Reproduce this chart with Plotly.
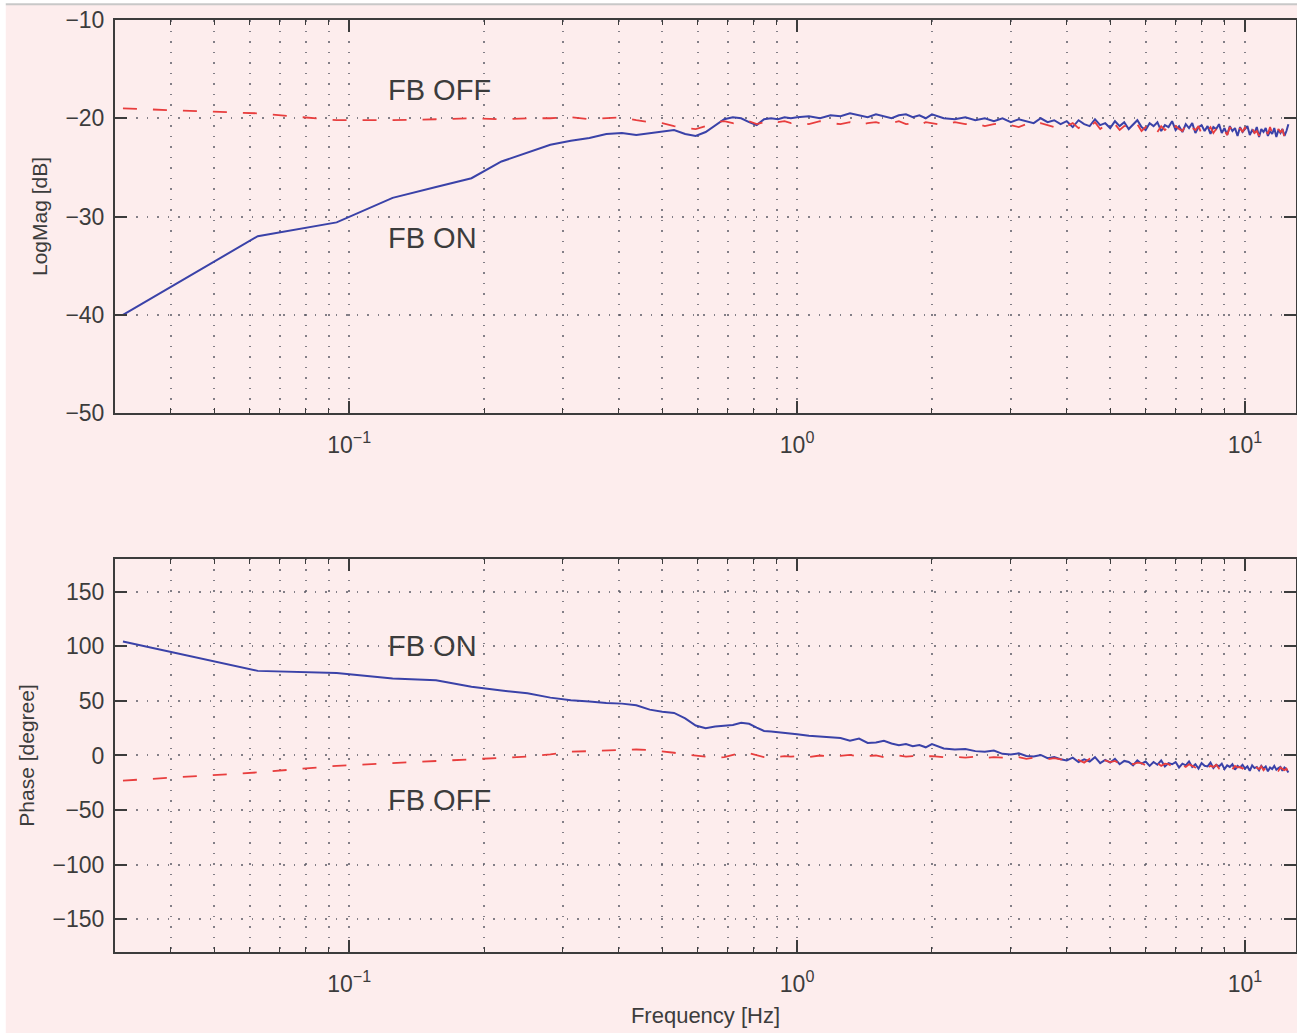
import plotly.graph_objects as go
from plotly.subplots import make_subplots

# Frequency grid [Hz]
freq_low = [0.03125, 0.0625, 0.09375, 0.125, 0.15625, 0.1875, 0.21875, 0.25,
            0.28125, 0.3125, 0.34375, 0.375, 0.40625, 0.4375, 0.46875, 0.5,
            0.53125, 0.5625, 0.59375, 0.625, 0.65625, 0.6875, 0.71875, 0.75,
            0.78125, 0.8125, 0.84375, 0.875, 0.90625, 0.9375, 0.96875]
freq_mid = [1.0, 1.0625, 1.125, 1.1875, 1.25, 1.3125, 1.375, 1.4375,
            1.5, 1.5625, 1.625, 1.6875, 1.75, 1.8125, 1.875, 1.9375,
            2.0, 2.125, 2.25, 2.375, 2.5, 2.625, 2.75, 2.875,
            3.0, 3.125, 3.25, 3.375, 3.5, 3.625, 3.75, 3.875]
freq_high = [4.0, 4.125, 4.25, 4.375, 4.5, 4.625, 4.75, 4.875, 5.0, 5.125,
             5.25, 5.375, 5.5, 5.625, 5.75, 5.875, 6.0, 6.125, 6.25, 6.375,
             6.5, 6.625, 6.75, 6.875, 7.0, 7.125, 7.25, 7.375, 7.5, 7.625,
             7.75, 7.875, 8.0, 8.125, 8.25, 8.375, 8.5, 8.625, 8.75, 8.875,
             9.0, 9.125, 9.25, 9.375, 9.5, 9.625, 9.75, 9.875, 10.0, 10.125,
             10.25, 10.375, 10.5, 10.625, 10.75, 10.875, 11.0, 11.125, 11.25, 11.375,
             11.5, 11.625, 11.75, 11.875, 12.0, 12.125, 12.25, 12.375, 12.5]
freq = freq_low + freq_mid + freq_high

# Magnitude [dB], feedback on
mag_on = [-40.0, -32.0, -30.6, -28.1, -27.0, -26.1, -24.4, -23.5,
          -22.7, -22.3, -22.0, -21.6, -21.5, -21.7, -21.5, -21.3,
          -21.2, -21.6, -21.8, -21.4, -20.7, -20.1, -19.9, -20.0,
          -20.4, -20.7, -20.1, -20.0, -20.1, -19.9, -20.0,
          -19.9, -19.8, -20.0, -19.7, -19.8, -19.5, -19.7, -19.9,
          -19.6, -19.8, -20.0, -19.7, -19.6, -19.9, -19.7, -20.0,
          -19.6, -20.0, -20.1, -19.9, -20.2, -20.0, -20.3, -20.0,
          -20.4, -20.1, -20.3, -20.5, -20.0, -20.4, -20.2, -20.6,
          -20.3, -20.9, -20.2, -20.6, -20.8, -20.1, -20.7, -20.5, -21.0, -20.3,
          -20.8, -20.4, -21.1, -20.6, -20.2, -20.9, -21.2, -20.5, -20.8, -20.4,
          -21.3, -20.7, -20.9, -20.3, -21.2, -20.8, -21.4, -20.6, -21.0, -20.5,
          -21.5, -20.9, -20.7, -21.3, -20.8, -21.6, -20.9, -21.1, -20.6, -21.5,
          -21.0, -21.7, -20.8, -21.3, -21.0, -21.8, -20.9, -21.4, -21.1, -20.8,
          -21.7, -21.2, -21.5, -20.9, -21.9, -21.1, -21.4, -21.0, -21.8, -21.3,
          -21.6, -21.0, -21.9, -21.2, -21.5, -21.1, -21.8, -21.3, -20.6]

# Magnitude [dB], feedback off
mag_off = [-19.0, -19.5, -20.2, -20.2, -20.1, -20.0, -20.1, -20.0,
           -20.0, -19.9, -20.1, -20.0, -19.9, -20.2, -20.4, -20.5,
           -20.8, -21.0, -21.1, -20.8, -20.4, -20.3, -20.5, -20.6,
           -20.3, -20.6, -20.4, -20.2, -20.4, -20.3, -20.5,
           -20.4, -20.6, -20.3, -20.5, -20.6, -20.4, -20.7, -20.5,
           -20.4, -20.6, -20.5, -20.3, -20.6, -20.5, -20.7, -20.4,
           -20.5, -20.7, -20.4, -20.6, -20.5, -20.8, -20.6, -20.5,
           -20.7, -20.9, -20.6, -20.8, -20.5, -20.7, -20.9, -20.6,
           -20.8, -20.5, -21.0, -20.6, -20.9, -20.4, -21.1, -20.7, -20.9, -20.6,
           -21.2, -20.8, -20.7, -21.1, -20.6, -21.3, -20.9, -21.0, -20.7, -21.4,
           -20.8, -21.2, -20.9, -21.5, -20.8, -21.1, -21.3, -20.7, -21.4, -21.0,
           -21.2, -20.8, -21.6, -21.0, -21.3, -20.9, -21.5, -21.1, -20.8, -21.4,
           -21.2, -21.7, -20.9, -21.3, -21.1, -21.6, -21.0, -21.4, -20.9, -21.7,
           -21.2, -21.0, -21.5, -21.3, -21.8, -21.0, -21.4, -21.2, -21.6, -20.9,
           -21.5, -21.3, -21.8, -21.1, -21.4, -21.2, -21.9, -21.3, -21.6]

# Phase [degree], feedback on
phase_on = [104.5, 77.5, 75.5, 70.5, 69.0, 63.0, 59.5, 57.0,
            53.0, 50.5, 49.5, 48.0, 47.5, 46.0, 42.0, 40.0,
            39.0, 34.0, 27.5, 25.0, 26.5, 27.0, 28.0, 30.0,
            29.0, 25.5, 22.5, 22.0, 21.5, 20.5, 20.0,
            19.5, 18.0, 17.5, 16.5, 16.0, 13.5, 15.5, 11.5,
            12.0, 13.5, 11.0, 9.5, 10.5, 8.5, 9.5, 7.5,
            10.5, 6.5, 5.5, 6.0, 4.0, 3.5, 4.5, 1.5,
            1.0, 2.0, -0.5, -1.0, 0.5, -2.5, -1.5, -3.5,
            -4.5, -2.0, -6.0, -3.5, -5.5, -1.5, -7.0, -4.0, -6.5, -3.0,
            -8.0, -5.0, -6.0, -9.0, -4.5, -7.5, -5.5, -9.5, -6.0, -8.5,
            -4.5, -10.0, -7.0, -8.0, -6.0, -11.0, -7.5, -9.0, -5.5, -10.5,
            -8.0, -12.0, -7.0, -9.5, -10.0, -6.5, -11.5, -8.5, -10.0, -7.5,
            -12.5, -9.0, -10.5, -8.0, -13.0, -9.5, -11.0, -8.5, -12.0, -10.0,
            -14.0, -9.0, -11.5, -10.5, -13.5, -9.5, -12.0, -10.0, -14.5, -11.0,
            -12.5, -9.5, -13.0, -11.5, -10.5, -14.0, -11.0, -12.5, -15.5]

# Phase [degree], feedback off
phase_off = [-23.0, -15.5, -9.5, -7.0, -5.5, -4.0, -2.5, -1.0,
             1.0, 3.5, 4.0, 4.5, 5.0, 5.5, 5.0, 4.0,
             2.5, 1.0, 0.0, -1.5, -2.0, -1.5, 0.5, 2.5,
             2.0, 0.0, -1.5, -2.0, -1.0, -0.5, -1.0,
             -0.5, -1.5, 0.0, -1.0, -0.5, 0.5, -1.0, -0.5,
             0.0, -1.5, -0.5, 0.0, -1.0, -0.5, -1.5, -1.0,
             -0.5, -1.5, -1.0, -2.0, -1.0, -2.5, -1.5, -2.0,
             -2.5, -1.5, -3.0, -2.0, -2.5, -3.5, -2.5, -3.5,
             -3.5, -5.0, -4.0, -6.5, -3.0, -5.5, -7.0, -4.5, -6.0, -5.0,
             -7.5, -6.0, -5.0, -8.0, -6.5, -7.0, -9.0, -6.0, -8.5, -7.0,
             -9.5, -7.5, -8.0, -10.0, -7.0, -9.0, -8.5, -10.5, -8.0, -9.5,
             -11.0, -8.5, -10.0, -9.0, -11.5, -9.5, -10.5, -8.5, -12.0, -10.0,
             -9.5, -11.5, -10.0, -12.5, -9.5, -11.0, -10.5, -12.0, -10.0, -11.5,
             -13.0, -10.5, -12.0, -11.0, -12.5, -10.0, -13.5, -11.5, -12.0, -10.5,
             -13.0, -11.5, -12.5, -14.0, -11.0, -12.5, -13.5, -12.0, -16.0]

# Axis ticks
x_major = [0.1, 1, 10]
x_major_text = ["10<sup>−1</sup>", "10<sup>0</sup>", "10<sup>1</sup>"]
x_minor = [0.03, 0.04, 0.05, 0.06, 0.07, 0.08, 0.09,
           0.2, 0.3, 0.4, 0.5, 0.6, 0.7, 0.8, 0.9,
           2, 3, 4, 5, 6, 7, 8, 9]
mag_ticks = [-50, -40, -30, -20, -10]
phase_ticks = [-150, -100, -50, 0, 50, 100, 150]

BG = "rgb(253,237,237)"
INK = "#3c3c3c"
FONT = "Liberation Sans, Arial, Helvetica, sans-serif"
BLUE = "rgb(58,66,168)"
RED = "rgb(232,62,62)"
DASH = "14px,16px"
GRID = "rgba(90,90,100,0.75)"
GRID_DASH = "1.5px,9px"

fig = make_subplots(rows=2, cols=1, vertical_spacing=0.0)

for row, (on, off) in enumerate([(mag_on, mag_off), (phase_on, phase_off)], start=1):
    fig.add_trace(go.Scatter(x=freq, y=on, mode="lines", name="FB ON",
                             line=dict(color=BLUE, width=2)), row=row, col=1)
    fig.add_trace(go.Scatter(x=freq, y=off, mode="lines", name="FB OFF",
                             line=dict(color=RED, width=1.8, dash=DASH)), row=row, col=1)

grid_style = dict(showgrid=True, gridcolor=GRID, gridwidth=1.5, griddash=GRID_DASH)

xaxis_common = dict(
    type="log", range=[-1.5229, 1.1139],
    tickmode="array", tickvals=x_major, ticktext=x_major_text,
    ticks="inside", ticklen=12, tickwidth=1.5, tickcolor=INK,
    showline=True, linecolor=INK, linewidth=2, mirror="ticks",
    tickfont=dict(family=FONT, size=23, color=INK),
    ticklabelstandoff=10,
    zeroline=False,
    minor=dict(tickmode="array", tickvals=x_minor, ticks="inside", ticklen=5,
               tickwidth=1.2, tickcolor=INK, showgrid=True,
               gridcolor=GRID, gridwidth=1.5, griddash=GRID_DASH),
    **grid_style,
)
fig.update_xaxes(**xaxis_common)
fig.update_xaxes(title=dict(text="Frequency [Hz]", font=dict(family=FONT, size=22, color=INK),
                            standoff=12), row=2, col=1)

yaxis_common = dict(
    ticks="inside", ticklen=12, tickwidth=1.5, tickcolor=INK,
    showline=True, linecolor=INK, linewidth=2, mirror="ticks",
    tickfont=dict(family=FONT, size=23, color=INK),
    zeroline=False, ticklabelstandoff=4,
    **grid_style,
)
fig.update_yaxes(**yaxis_common)
fig.update_yaxes(range=[-50, -10], tickmode="array", tickvals=mag_ticks,
                 ticktext=["−50", "−40", "−30", "−20", "−10"],
                 title=dict(text="LogMag [dB]", font=dict(family=FONT, size=21, color=INK),
                            standoff=12),
                 domain=[0.5783, 1.0], row=1, col=1)
fig.update_yaxes(range=[-180, 180], tickmode="array", tickvals=phase_ticks,
                 ticktext=["−150", "−100", "−50", "0", "50", "100", "150"],
                 title=dict(text="Phase [degree]", font=dict(family=FONT, size=21, color=INK),
                            standoff=12),
                 domain=[0.0, 0.4217], row=2, col=1)

# Curve labels
label_font = dict(family=FONT, size=29, color=INK)
labels = [("x", "y", -0.917, -17.1, "FB OFF"),
          ("x", "y", -0.917, -32.2, "FB ON"),
          ("x2", "y2", -0.917, 100.0, "FB ON"),
          ("x2", "y2", -0.917, -41.0, "FB OFF")]
for xr, yr, lx, ly, txt in labels:
    fig.add_annotation(xref=xr, yref=yr, x=lx, y=ly, text=txt, showarrow=False,
                       xanchor="left", yanchor="middle", font=label_font)

# Scanned page border: white strips and a thin grey rule at the top
fig.add_shape(type="rect", xref="paper", yref="paper", x0=-0.1, x1=1.01,
              y0=1.0172, y1=1.03, fillcolor="white", line_width=0, layer="above")
fig.add_shape(type="line", xref="paper", yref="paper", x0=-0.1, x1=1.01,
              y0=1.0170, y1=1.0170, line=dict(color="#c8c8c8", width=2), layer="above")
fig.add_shape(type="rect", xref="paper", yref="paper", x0=-0.1, x1=-0.0925,
              y0=-0.1, y1=1.03, fillcolor="white", line_width=0, layer="above")

fig.update_layout(
    width=1297, height=1033,
    margin=dict(l=115, r=1, t=20, b=81, autoexpand=False),
    paper_bgcolor=BG, plot_bgcolor=BG,
    showlegend=False,
    font=dict(family=FONT, color=INK),
)

fig.write_html("out.html")
